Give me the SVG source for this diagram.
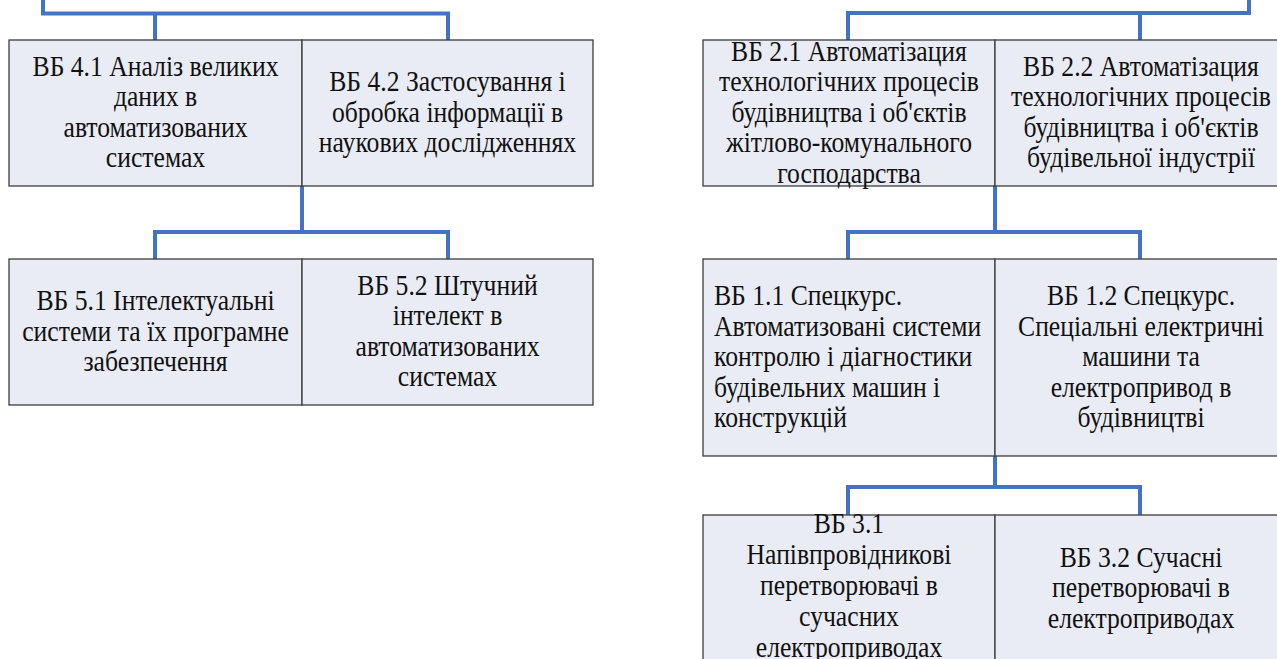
<svg xmlns="http://www.w3.org/2000/svg" width="1277" height="659" viewBox="0 0 1277 659">
<style>
.box{fill:#e9ecf5;stroke:#3c3c3c;stroke-width:1.3}
.t{font-family:"Liberation Serif","Times New Roman",serif;font-size:28.5px;fill:#111}
.c{text-anchor:middle}
.conn{fill:none;stroke:#4472c4;stroke-width:4;stroke-linejoin:miter;stroke-linecap:round}
</style>
<rect width="1277" height="659" fill="#ffffff"/>
<g id="connectors" class="conn">
<path d="M43 0V13.5H448V40M155 13.5V40"/>
<path d="M302 186V232M155 259V232H448V259"/>
<path d="M1249 0V13H848V40M1140 13V40"/>
<path d="M995 186V232M848 259V232H1140V259"/>
<path d="M995 456V487M848 515V487H1140V515"/>
</g>
<g id="vb41">
<rect class="box" x="9" y="40" width="293" height="146"/>
<g class="t c" transform="translate(155.5 0) scale(0.9 1)">
<text x="0" y="76">ВБ 4.1 Аналіз великих</text>
<text x="0" y="106.5">даних в</text>
<text x="0" y="137">автоматизованих</text>
<text x="0" y="167.5">системах</text>
</g>
</g>
<g id="vb42">
<rect class="box" x="302" y="40" width="291" height="146"/>
<g class="t c" transform="translate(447.5 0) scale(0.9 1)">
<text x="0" y="91.25">ВБ 4.2 Застосування і</text>
<text x="0" y="121.75">обробка інформації в</text>
<text x="0" y="152.25">наукових дослідженнях</text>
</g>
</g>
<g id="vb51">
<rect class="box" x="9" y="259" width="293" height="146"/>
<g class="t c" transform="translate(155.5 0) scale(0.9 1)">
<text x="0" y="310.25">ВБ 5.1 Інтелектуальні</text>
<text x="0" y="340.75">системи та їх програмне</text>
<text x="0" y="371.25">забезпечення</text>
</g>
</g>
<g id="vb52">
<rect class="box" x="302" y="259" width="291" height="146"/>
<g class="t c" transform="translate(447.5 0) scale(0.9 1)">
<text x="0" y="295">ВБ 5.2 Штучний</text>
<text x="0" y="325.5">інтелект в</text>
<text x="0" y="356">автоматизованих</text>
<text x="0" y="386.5">системах</text>
</g>
</g>
<g id="vb21">
<rect class="box" x="703" y="40" width="292" height="146"/>
<g class="t c" transform="translate(849 0) scale(0.9 1)">
<text x="0" y="60.75">ВБ 2.1 Автоматізация</text>
<text x="0" y="91.25">технологічних процесів</text>
<text x="0" y="121.75">будівництва і об'єктів</text>
<text x="0" y="152.25">жітлово-комунального</text>
<text x="0" y="182.75">господарства</text>
</g>
</g>
<g id="vb22">
<rect class="box" x="995" y="40" width="292" height="146"/>
<g class="t c" transform="translate(1141 0) scale(0.9 1)">
<text x="0" y="76">ВБ 2.2 Автоматізация</text>
<text x="0" y="106.5">технологічних процесів</text>
<text x="0" y="137">будівництва і об'єктів</text>
<text x="0" y="167.5">будівельної індустрії</text>
</g>
</g>
<g id="vb11">
<rect class="box" x="703" y="259" width="292" height="197"/>
<g class="t" transform="translate(714 0) scale(0.9 1)">
<text x="0" y="305.25">ВБ 1.1 Спецкурс.</text>
<text x="0" y="335.75">Автоматизовані системи</text>
<text x="0" y="366.25">контролю і діагностики</text>
<text x="0" y="396.75">будівельних машин і</text>
<text x="0" y="427.25">конструкцій</text>
</g>
</g>
<g id="vb12">
<rect class="box" x="995" y="259" width="292" height="197"/>
<g class="t c" transform="translate(1141 0) scale(0.9 1)">
<text x="0" y="305.25">ВБ 1.2 Спецкурс.</text>
<text x="0" y="335.75">Спеціальні електричні</text>
<text x="0" y="366.25">машини та</text>
<text x="0" y="396.75">електропривод в</text>
<text x="0" y="427.25">будівництві</text>
</g>
</g>
<g id="vb31">
<rect class="box" x="703" y="515" width="292" height="150"/>
<g class="t c" transform="translate(849 0) scale(0.9 1)">
<text x="0" y="533.5">ВБ 3.1</text>
<text x="0" y="564.5">Напівпровідникові</text>
<text x="0" y="595.5">перетворювачі в</text>
<text x="0" y="626.5">сучасних</text>
<text x="0" y="657">електроприводах</text>
</g>
</g>
<g id="vb32">
<rect class="box" x="995" y="515" width="292" height="150"/>
<g class="t c" transform="translate(1141 0) scale(0.9 1)">
<text x="0" y="567">ВБ 3.2 Сучасні</text>
<text x="0" y="597.5">перетворювачі в</text>
<text x="0" y="628">електроприводах</text>
</g>
</g>
</svg>
